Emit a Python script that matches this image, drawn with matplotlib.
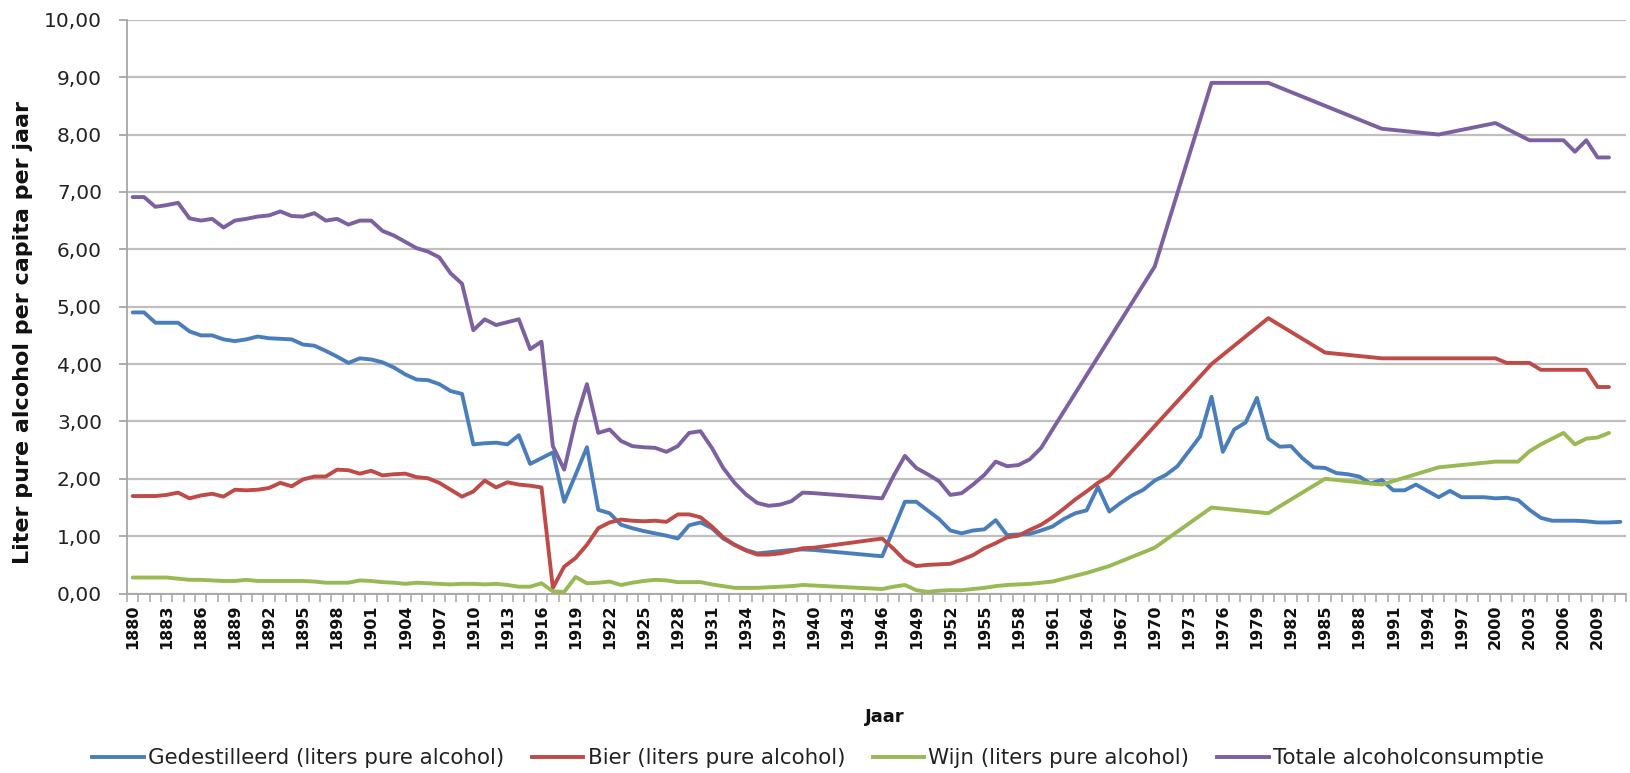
import matplotlib
matplotlib.use("Agg")
import matplotlib.pyplot as plt
import numpy as np
from matplotlib.ticker import FixedLocator, FuncFormatter
from matplotlib.lines import Line2D

plt.rcParams['font.family'] = ['DejaVu Sans']

# ---------------- data ----------------
years = list(range(1880, 2012))
N = None

gedestilleerd = [
    4.90, 4.90, 4.72, 4.72, 4.72, 4.57, 4.50, 4.50, 4.43, 4.40,   # 1880-1889
    4.43, 4.48, 4.45, 4.44, 4.43, 4.34, 4.32, 4.23, 4.13, 4.02,   # 1890-1899
    4.10, 4.08, 4.03, 3.94, 3.82, 3.73, 3.72, 3.65, 3.53, 3.48,   # 1900-1909
    2.60, 2.62, 2.63, 2.60, 2.76, 2.26, 2.36, 2.46, 1.60, 2.07,   # 1910-1919
    2.55, 1.46, 1.40, 1.20, 1.14, 1.09, 1.05, 1.01, 0.96, 1.19,   # 1920-1929
    1.24, 1.14, 0.96, 0.85, 0.76, 0.70, 0.72, 0.74, 0.76, 0.77,   # 1930-1939
    0.76, N, N, N, N, N, 0.65, N, 1.60, 1.60,                     # 1940-1949
    1.45, 1.30, 1.10, 1.05, 1.10, 1.12, 1.28, 1.02, 1.03, 1.04,   # 1950-1959
    1.10, 1.17, 1.30, 1.40, 1.45, 1.86, 1.43, 1.58, 1.71, 1.81,   # 1960-1969
    1.97, 2.07, 2.22, 2.48, 2.74, 3.43, 2.47, 2.86, 2.98, 3.41,   # 1970-1979
    2.70, 2.56, 2.57, 2.36, 2.20, 2.19, 2.10, 2.08, 2.04, 1.92,   # 1980-1989
    1.98, 1.80, 1.80, 1.90, 1.79, 1.68, 1.79, 1.68, 1.68, 1.68,   # 1990-1999
    1.66, 1.67, 1.63, 1.46, 1.32, 1.27, 1.27, 1.27, 1.26, 1.24,   # 2000-2009
    1.24, 1.25,                                                   # 2010-2011
]

bier = [
    1.70, 1.70, 1.70, 1.72, 1.76, 1.66, 1.71, 1.74, 1.69, 1.81,
    1.80, 1.81, 1.84, 1.93, 1.87, 1.99, 2.04, 2.04, 2.16, 2.15,
    2.09, 2.14, 2.06, 2.08, 2.09, 2.03, 2.01, 1.93, 1.81, 1.69,
    1.78, 1.97, 1.85, 1.94, 1.90, 1.88, 1.85, 0.10, 0.47, 0.62,
    0.85, 1.14, 1.24, 1.29, 1.27, 1.26, 1.27, 1.25, 1.38, 1.38,
    1.33, 1.17, 0.98, 0.85, 0.75, 0.68, 0.68, 0.70, 0.74, 0.79,
    0.80, N, N, N, N, N, 0.96, 0.78, 0.58, 0.48,
    0.50, 0.51, 0.52, 0.59, 0.67, 0.79, 0.88, 0.98, 1.01, 1.11,
    1.20, 1.33, 1.48, 1.64, 1.78, 1.93, 2.05, N, N, N,
    2.92, N, N, N, N, 4.00, N, N, N, N,
    4.80, N, N, N, N, 4.20, N, N, N, N,
    4.10, N, N, N, N, N, N, N, N, N,
    4.10, 4.02, 4.02, 4.02, 3.90, 3.90, 3.90, 3.90, 3.90, 3.60,
    3.60, N,
]

wijn = [
    0.28, 0.28, 0.28, 0.28, 0.26, 0.24, 0.24, 0.23, 0.22, 0.22,
    0.24, 0.22, 0.22, 0.22, 0.22, 0.22, 0.21, 0.19, 0.19, 0.19,
    0.23, 0.22, 0.20, 0.19, 0.17, 0.19, 0.18, 0.17, 0.16, 0.17,
    0.17, 0.16, 0.17, 0.15, 0.12, 0.12, 0.18, 0.04, 0.03, 0.29,
    0.18, 0.19, 0.21, 0.15, 0.19, 0.22, 0.24, 0.23, 0.20, 0.20,
    0.20, 0.16, 0.13, 0.10, 0.10, 0.10, 0.11, 0.12, 0.13, 0.15,
    0.14, N, N, N, N, N, 0.08, 0.12, 0.15, 0.06,
    0.03, 0.05, 0.06, 0.06, 0.08, 0.10, 0.13, 0.15, 0.16, 0.17,
    0.19, 0.21, 0.26, 0.31, 0.36, 0.42, 0.48, N, N, N,
    0.80, N, N, N, N, 1.50, N, N, N, N,
    1.40, N, N, N, N, 2.00, N, N, N, N,
    1.90, N, N, N, N, 2.20, N, N, N, N,
    2.30, 2.30, 2.30, 2.48, 2.60, 2.70, 2.80, 2.60, 2.70, 2.72,
    2.80, N,
]

totaal = [
    6.91, 6.91, 6.74, 6.77, 6.81, 6.54, 6.50, 6.53, 6.38, 6.50,
    6.53, 6.57, 6.59, 6.66, 6.58, 6.57, 6.63, 6.50, 6.53, 6.43,
    6.50, 6.50, 6.32, 6.24, 6.13, 6.02, 5.96, 5.86, 5.58, 5.40,
    4.59, 4.78, 4.68, 4.73, 4.78, 4.26, 4.39, 2.57, 2.16, 3.01,
    3.65, 2.80, 2.86, 2.66, 2.57, 2.55, 2.54, 2.47, 2.57, 2.80,
    2.83, 2.54, 2.19, 1.93, 1.73, 1.58, 1.53, 1.55, 1.61, 1.76,
    1.75, N, N, N, N, N, 1.66, 2.05, 2.40, 2.19,
    2.08, 1.96, 1.72, 1.75, 1.90, 2.07, 2.30, 2.22, 2.24, 2.34,
    2.54, 2.86, N, N, N, N, N, N, N, N,
    5.70, N, N, N, N, 8.90, N, N, N, N,
    8.90, N, N, N, N, N, N, N, N, N,
    8.10, N, N, N, N, 8.00, N, N, N, N,
    8.20, N, N, 7.90, N, N, 7.90, 7.70, 7.90, 7.60,
    7.60, N,
]

series_names = ["Gedestilleerd (liters pure alcohol)",
                "Bier (liters pure alcohol)",
                "Wijn (liters pure alcohol)",
                "Totale alcoholconsumptie"]
series_colors = ["#4A7EBB", "#BE4B48", "#98B954", "#7D60A0"]
y_ticks = list(range(0, 11))
x_label_years = years[::3]

# ---------------- figure ----------------
W, H = 1630, 773
fig = plt.figure(figsize=(W / 100, H / 100), dpi=100)
left, right, top, bottom = 127, 1626, 19.75, 593.6
ax = fig.add_axes([left / W, 1 - bottom / H, (right - left) / W, (bottom - top) / H])

for vals, name, col in zip([gedestilleerd, bier, wijn, totaal], series_names, series_colors):
    xs = [y for y, v in zip(years, vals) if v is not None]
    ys = [v for v in vals if v is not None]
    ax.plot(xs, ys, color=col, lw=2.8, solid_joinstyle='round', solid_capstyle='round',
            label=name, zorder=3)

ax.set_xlim(years[0] - 0.5, years[-1] + 0.5)
ax.set_ylim(0, 10)

grid_col = "#BFBFBF"
ax.yaxis.set_major_locator(FixedLocator(y_ticks))
ax.yaxis.set_major_formatter(FuncFormatter(lambda v, p: f"{v:.2f}".replace('.', ',')))
ax.yaxis.grid(True, color=grid_col, lw=1.6, zorder=0)
ax.xaxis.grid(False)
ax.set_axisbelow(True)

for s in ['top', 'right']:
    ax.spines[s].set_visible(False)
for s in ['left', 'bottom']:
    ax.spines[s].set_color("#A6A6A6")
    ax.spines[s].set_linewidth(1.3)

ax.tick_params(axis='y', which='major', length=6, width=1.3, color="#A6A6A6",
               labelsize=14.5, pad=12, labelcolor="#222222")

ax.xaxis.set_major_locator(FixedLocator(x_label_years))
ax.xaxis.set_minor_locator(FixedLocator(np.arange(years[0] - 0.5, years[-1] + 1, 1)))
ax.tick_params(axis='x', which='major', length=0, pad=8, labelsize=11.5,
               labelrotation=90, labelcolor="#111111")
ax.tick_params(axis='x', which='minor', length=6, width=1.1, color="#A6A6A6")
for lbl in ax.get_xticklabels():
    lbl.set_fontweight('bold')
    lbl.set_va('top')

fig.text(23 / W, 1 - 333 / H, "Liter pure alcohol per capita per jaar", rotation=90,
         ha='center', va='center', fontsize=16, fontweight='bold', color="#111111")
fig.text(885 / W, 1 - 717 / H, "Jaar", ha='center', va='center', fontsize=13,
         fontweight='bold', color="#111111")

handles = [Line2D([0], [0], color=c, lw=2.8) for c in series_colors]
fig.legend(handles, series_names, loc='center', bbox_to_anchor=(818 / W, 1 - 758 / H),
           ncol=4, frameon=False, fontsize=15.4, handlelength=2.4, handletextpad=0.2,
           columnspacing=1.3, labelcolor="#222222")

fig.savefig("out.png", dpi=100, facecolor='white')
